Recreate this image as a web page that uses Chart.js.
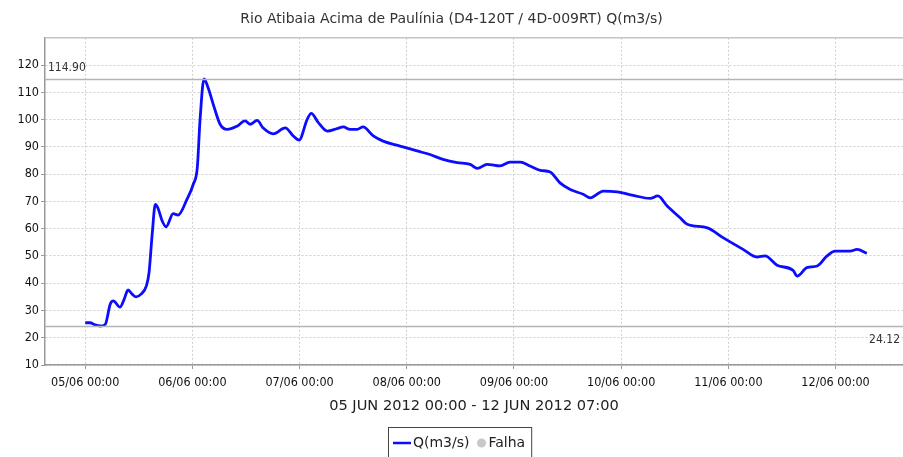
<!DOCTYPE html>
<html>
<head>
<meta charset="utf-8">
<script src="https://cdn.jsdelivr.net/npm/chart.js@4/dist/chart.umd.min.js"></script>
<style>
    html, body { margin: 0; padding: 0; background: #fff; }
    #grafico-vazao { display: block; }
</style>
</head>
<body>
<canvas id="grafico-vazao" width="903" height="457"></canvas>
<script>
// horas contadas a partir de 05/06/2012 00:00
const horas = [
    0, 1.1, 2.2, 3.4, 4.5, 5.6, 6.3, 7.8, 8.7, 9.6, 10.5, 11.4, 12.5, 13.7, 14.3, 15.0,
    15.7, 16.3, 17.2, 18.1, 19.7, 20.8, 22.8, 24.2, 25.1, 25.7, 26.6, 27.5, 28.9, 30.2,
    31.8, 34.0, 35.8, 36.9, 38.5, 39.8, 42.1, 44.8, 46.6, 47.9, 49.7, 50.6, 52.2, 54.2,
    56.4, 57.8, 59.3, 60.9, 62.2, 64.5, 66.7, 70.5, 74.3, 77.2, 80.1, 83.3, 86.2, 87.8,
    90.0, 92.9, 95.1, 97.4, 99.6, 101.9, 104.1, 106.3, 108.6, 111.5, 113.1, 116.0, 119.1,
    122.7, 126.5, 128.2, 130.3, 133.2, 134.8, 139.3, 142.8, 147.3, 150.4, 152.2, 154.9,
    158.5, 159.4, 161.6, 163.9, 166.1, 167.9, 171.3, 172.8, 175.0
];
const vazoes = [
    25.5, 25.5, 24.7, 24.3, 24.9, 32.3, 33.5, 31.2, 34.0, 37.5, 36.0, 35.0, 36.0, 39.0, 44.0, 58.0,
    68.9, 67.5, 63.0, 60.7, 65.5, 65.0, 70.8, 76.3, 82.4, 99.5, 114.9, 111.8, 104.4, 98.3,
    96.4, 97.6, 99.5, 98.3, 99.7, 97.0, 94.8, 97.0, 94.0, 92.5, 100.1, 102.3, 98.9, 95.8,
    96.7, 97.3, 96.4, 96.4, 97.3, 94.0, 92.1, 90.3, 88.5, 87.2, 85.4, 84.2, 83.6, 82.1,
    83.6, 83.0, 84.4, 84.4, 83.0, 81.4, 80.8, 76.8, 74.4, 72.6, 71.3, 73.8, 73.5,
    72.2, 71.1, 72.0, 68.3, 64.0, 61.6, 60.3, 56.7, 52.4, 49.6, 50.0, 46.6,
    44.7, 42.6, 45.7, 46.3, 50.0, 51.8, 51.8, 52.4, 51.0
];
const horasTicks = [0, 24, 48, 72, 96, 120, 144, 168];
const rotulosX = ['05/06 00:00', '06/06 00:00', '07/06 00:00', '08/06 00:00', '09/06 00:00', '10/06 00:00', '11/06 00:00', '12/06 00:00'];
const vazaoMaxima = 114.90;
const vazaoMinima = 24.12;

const FONTE_ESTREITA = '"DejaVu Sans Condensed", "DejaVu Sans", sans-serif';
const FONTE = '"DejaVu Sans", sans-serif';

const pluginMoldura = {
    id: 'moldura',
    afterDatasetsDraw(chart) {
        const { ctx, chartArea, scales } = chart;
        const y = scales.y;
        ctx.save();
        // borda superior da area do grafico
        ctx.strokeStyle = '#c4c4c4';
        ctx.lineWidth = 1.5;
        ctx.beginPath();
        ctx.moveTo(chartArea.left, chartArea.top);
        ctx.lineTo(chartArea.right, chartArea.top);
        ctx.stroke();

        // linhas de maximo e minimo
        ctx.strokeStyle = '#b4b4b4';
        ctx.lineWidth = 1.5;
        [vazaoMaxima, vazaoMinima].forEach(valor => {
            const py = Math.round(y.getPixelForValue(valor)) + 0.5;
            ctx.beginPath();
            ctx.moveTo(chartArea.left, py);
            ctx.lineTo(chartArea.right, py);
            ctx.stroke();
        });

        ctx.fillStyle = '#333';
        ctx.font = '12px ' + FONTE_ESTREITA;
        ctx.textBaseline = 'bottom';
        ctx.textAlign = 'left';
        ctx.fillText(vazaoMaxima.toFixed(2), chartArea.left + 3, y.getPixelForValue(vazaoMaxima) - 5);
        ctx.textBaseline = 'top';
        ctx.textAlign = 'right';
        ctx.fillText(vazaoMinima.toFixed(2), chartArea.right - 3, y.getPixelForValue(vazaoMinima) + 7);
        ctx.restore();
    },
    afterDraw(chart) {
        // legenda com caixa, desenhada a mao
        const { ctx } = chart;
        const ds = chart.data.datasets;
        ctx.save();
        ctx.font = '14px ' + FONTE;
        ctx.textBaseline = 'middle';
        ctx.textAlign = 'left';
        const yLeg = 443;
        let x = 393;

        ctx.strokeStyle = ds[0].borderColor;
        ctx.lineWidth = 2.5;
        ctx.beginPath();
        ctx.moveTo(x, yLeg);
        ctx.lineTo(x + 18, yLeg);
        ctx.stroke();
        x += 20;
        ctx.fillStyle = '#222';
        ctx.fillText(ds[0].label, x, yLeg);
        x += ctx.measureText(ds[0].label).width + 12;

        ctx.fillStyle = ds[1].backgroundColor;
        ctx.beginPath();
        ctx.arc(x, yLeg, 4.5, 0, Math.PI * 2);
        ctx.fill();
        x += 7;
        ctx.fillStyle = '#222';
        ctx.fillText(ds[1].label, x, yLeg);
        x += ctx.measureText(ds[1].label).width + 6;

        ctx.strokeStyle = '#444';
        ctx.lineWidth = 1;
        ctx.strokeRect(388.5, 427.5, x - 388, 40);
        ctx.restore();
    }
};

new Chart(document.getElementById('grafico-vazao'), {
    type: 'line',
    data: {
        datasets: [
            {
                label: 'Q(m3/s)',
                data: horas.map((h, i) => ({ x: h, y: vazoes[i] })),
                borderColor: '#0c0cff',
                borderWidth: 2.8,
                pointRadius: 0,
                cubicInterpolationMode: 'monotone',
                fill: false
            },
            {
                label: 'Falha',
                data: [],
                backgroundColor: '#c8c8c8',
                borderColor: '#c8c8c8',
                pointStyle: 'circle'
            }
        ]
    },
    options: {
        responsive: false,
        animation: false,
        layout: { padding: { left: 0, right: 0, top: 0, bottom: 37 } },
        plugins: {
            legend: { display: false },
            tooltip: { enabled: false },
            title: {
                display: true,
                text: 'Rio Atibaia Acima de Paulínia (D4-120T / 4D-009RT) Q(m3/s)',
                color: '#333',
                font: { family: FONTE, size: 14, weight: 'normal' },
                padding: { top: 11, bottom: 10 }
            }
        },
        scales: {
            x: {
                type: 'linear',
                min: -9,
                max: 183.1,
                afterFit: escala => { escala.height = 55; },
                afterBuildTicks: escala => { escala.ticks = horasTicks.map(v => ({ value: v })); },
                border: { display: true, color: '#999', width: 1.5, dash: [2, 2] },
                grid: {
                    color: '#cfcfcf',
                    tickLength: 4,
                    tickColor: '#999',
                    tickBorderDash: []
                },
                ticks: {
                    autoSkip: false,
                    maxRotation: 0,
                    padding: 6,
                    color: '#111',
                    font: { family: FONTE_ESTREITA, size: 12.5 },
                    callback: (valor, indice) => rotulosX[indice]
                },
                title: {
                    display: true,
                    text: '05 JUN 2012 00:00 - 12 JUN 2012 07:00',
                    color: '#222',
                    font: { family: FONTE, size: 14.6 },
                    padding: { top: 0, bottom: 5 }
                }
            },
            y: {
                min: 10,
                max: 130,
                afterFit: escala => { escala.width = 45; },
                afterBuildTicks: escala => { escala.ticks = escala.ticks.filter(t => t.value <= 120); },
                border: { display: true, color: '#999', width: 1.5, dash: [2, 2] },
                grid: {
                    color: '#cfcfcf',
                    tickLength: 4,
                    tickColor: '#999',
                    tickBorderDash: []
                },
                ticks: {
                    stepSize: 10,
                    padding: 2,
                    color: '#111',
                    font: { family: FONTE_ESTREITA, size: 12.5 }
                }
            }
        }
    },
    plugins: [pluginMoldura]
});
</script>
</body>
</html>
